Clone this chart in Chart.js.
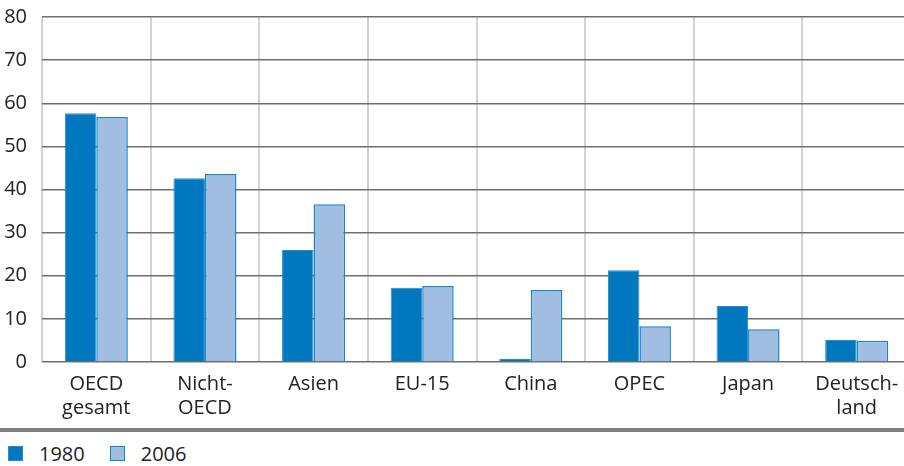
<!DOCTYPE html>
<html>
<head>
<meta charset="utf-8">
<script src="https://cdn.jsdelivr.net/npm/chart.js@4/dist/chart.umd.min.js"></script>
<style>
  html, body { margin: 0; padding: 0; background: #fff; overflow: hidden; }
  #wrap { position: relative; width: 904px; height: 466px; overflow: hidden; }
  #chart { position: absolute; left: 0; top: -10px; }
  #rule { position: absolute; left: 0; top: 428px; width: 904px; height: 3.5px; background: #7f7f7f; }
  #legend { position: absolute; left: 8px; top: 440px; display: flex; align-items: center;
            font-family: 'Open Sans', sans-serif; font-size: 20px; color: #222; }
  #legend .item { display: flex; align-items: center; margin-right: 25px; }
  #legend .box { width: 15px; height: 15px; margin-right: 16px; box-sizing: border-box; }
</style>
</head>
<body>
<div id="wrap">
  <canvas id="chart" width="911" height="449"></canvas>
  <div id="rule"></div>
  <div id="legend"></div>
</div>
<script>
const categories = [
  ["OECD", "gesamt"], ["Nicht-", "OECD"], "Asien", "EU-15",
  "China", "OPEC", "Japan", ["Deutsch-", "land"]
];
const values1980 = [57.7, 42.6, 26.0, 17.2, 0.7, 21.3, 13.0, 5.1];
const values2006 = [56.8, 43.6, 36.6, 17.6, 16.7, 8.3, 7.6, 4.9];
const yTicks = [0, 10, 20, 30, 40, 50, 60, 70, 80];
const seriesNames = ["1980", "2006"];

const FONT = "'Open Sans', sans-serif";

const chart = new Chart(document.getElementById("chart"), {
  type: "bar",
  data: {
    labels: categories,
    datasets: [
      {
        label: seriesNames[0],
        data: values1980,
        backgroundColor: "#0078c0",
        borderColor: "#2b8ccb",
        borderWidth: 1,
        categoryPercentage: 0.58,
        barPercentage: 1.0,
      },
      {
        label: seriesNames[1],
        data: values2006,
        backgroundColor: "#a0bde2",
        borderColor: "#1a84c8",
        borderWidth: 1.5,
        categoryPercentage: 0.58,
        barPercentage: 1.0,
      },
    ],
  },
  options: {
    responsive: false,
    animation: false,
    layout: { padding: { top: 6, right: 0, bottom: 9, left: 0 } },
    plugins: {
      tooltip: { enabled: false },
      legend: { display: false },
    },
    scales: {
      x: {
        offset: true,
        grid: {
          offset: true,
          color: "#d2d2d2",
          lineWidth: 2,
          drawTicks: false,
        },
        border: { display: false },
        ticks: {
          color: "#222",
          padding: 10,
          maxRotation: 0,
          font: { family: FONT, size: 20, lineHeight: 1.2 },
        },
      },
      y: {
        min: 0,
        max: 80,
        afterBuildTicks(axis) {
          axis.ticks = yTicks.map((v) => ({ value: v }));
        },
        afterFit(axis) {
          axis.width = 42;
        },
        grid: { color: "#6e6e6e", lineWidth: 1.5, drawTicks: false },
        border: { display: false },
        ticks: {
          color: "#222",
          padding: 15,
          font: { family: FONT, size: 20 },
        },
      },
    },
  },
});

// legend under the grey rule
const legendEl = document.getElementById("legend");
chart.data.datasets.forEach((ds) => {
  const item = document.createElement("div");
  item.className = "item";
  const box = document.createElement("span");
  box.className = "box";
  box.style.background = ds.backgroundColor;
  box.style.border = "1.5px solid " + ds.borderColor;
  const txt = document.createElement("span");
  txt.textContent = ds.label;
  item.appendChild(box);
  item.appendChild(txt);
  legendEl.appendChild(item);
});
</script>
</body>
</html>
